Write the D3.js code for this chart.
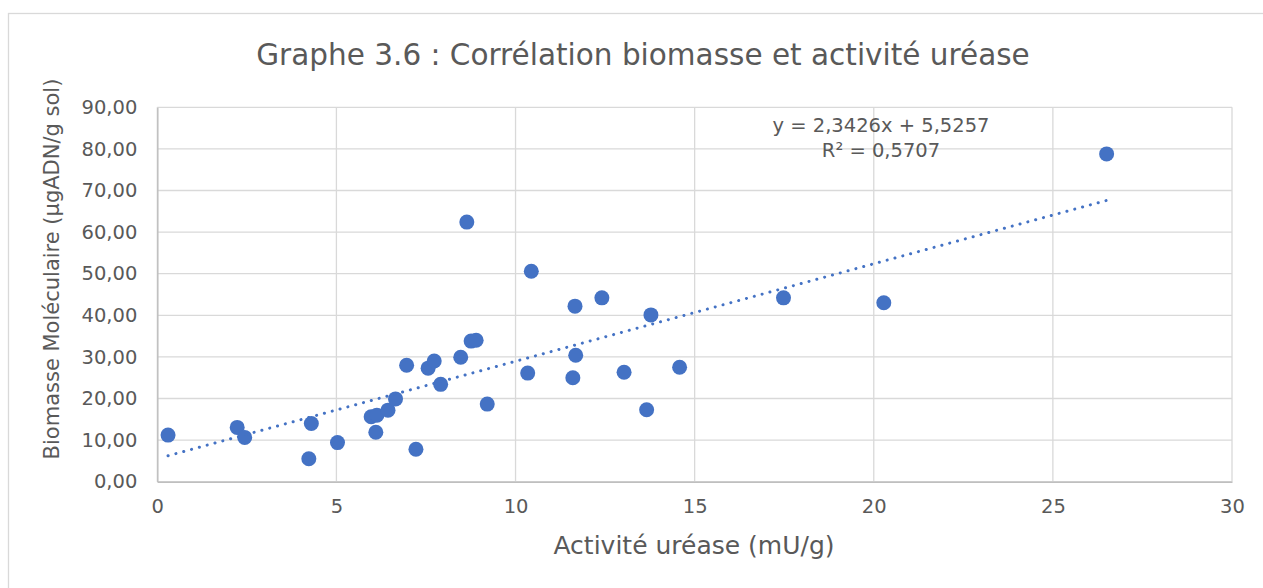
<!DOCTYPE html>
<html>
<head>
<meta charset="utf-8">
<script src="https://cdn.jsdelivr.net/npm/d3@7"></script>
<style>
  body { margin: 0; background: #fff; }
  text { font-family: "DejaVu Sans", sans-serif; fill: #595959; }
</style>
</head>
<body>
<svg id="chart" width="1263" height="588"></svg>
<script>

// activité uréase (mU/g)
var activite = [0.30, 2.23, 2.44, 4.30, 4.23, 5.03, 5.97, 6.13, 6.10, 6.44,
		6.65, 7.22, 6.96, 7.56, 7.73, 7.91, 8.47, 8.76, 8.90, 9.21, 10.34,
		8.64, 10.44, 11.66, 12.41, 13.78, 11.68, 11.60, 13.03, 13.66, 14.58,
		17.48, 20.28, 26.50];

// biomasse moléculaire (µgADN/g sol)
var biomasse = [11.2, 13.05, 10.65, 14.0, 5.5, 9.4, 15.6, 16.0, 11.9, 17.2,
		19.9, 7.8, 28.0, 27.3, 29.0, 23.4, 29.9, 33.8, 34.0, 18.65, 26.1,
		62.4, 50.6, 42.2, 44.2, 40.1, 30.4, 25.0, 26.3, 17.3, 27.5, 44.2,
		43.0, 78.8];

var xTicks = [0, 5, 10, 15, 20, 25, 30];
var yTicks = [0, 10, 20, 30, 40, 50, 60, 70, 80, 90];

// courbe de tendance linéaire
var pente = 2.3426;
var origine = 5.5257;
var r2 = 0.5707;

var titre = "Graphe 3.6 : Corrélation biomasse et activité uréase";
var titreX = "Activité uréase (mU/g)";
var titreY = "Biomasse Moléculaire (µgADN/g sol)";

var svg = d3.select("#chart");

var gauche = 157.3, droite = 1232, haut = 107.3, bas = 481.7;

var x = d3.scaleLinear().domain([0, 30]).range([gauche, droite]);
var y = d3.scaleLinear().domain([0, 90]).range([bas, haut]);

var virgule = d3.formatLocale({ decimal: ",", thousands: " ", grouping: [3], currency: ["", " €"] });

// cadre du graphique
svg.append("rect") //
.attr("x", 8.5).attr("y", 13.5) //
.attr("width", 1300).attr("height", 700) //
.attr("fill", "none") //
.attr("stroke", "#d9d9d9") //
.attr("stroke-width", 1.3);

// grilles
svg.append("g").selectAll("line").data(yTicks).enter().append("line") //
.attr("x1", gauche).attr("x2", droite) //
.attr("y1", function(d) { return y(d); }) //
.attr("y2", function(d) { return y(d); }) //
.attr("stroke", "#d9d9d9") //
.attr("stroke-width", 1.3);

svg.append("g").selectAll("line").data(xTicks).enter().append("line") //
.attr("x1", function(d) { return x(d); }) //
.attr("x2", function(d) { return x(d); }) //
.attr("y1", haut).attr("y2", bas) //
.attr("stroke", "#d9d9d9") //
.attr("stroke-width", 1.3);

// axes
var axeX = svg.append("g") //
.attr("transform", "translate(0," + bas + ")") //
.call(d3.axisBottom(x).tickValues(xTicks).tickSize(0).tickPadding(17));
axeX.select(".domain").attr("stroke", "#bfbfbf").attr("stroke-width", 1.5);

var axeY = svg.append("g") //
.attr("transform", "translate(" + gauche + ",0)") //
.call(d3.axisLeft(y).tickValues(yTicks).tickSize(0).tickPadding(20) //
.tickFormat(virgule.format(".2f")));
axeY.select(".domain").attr("stroke", "#bfbfbf").attr("stroke-width", 1.5);

svg.selectAll(".tick text") //
.style("font-family", "'DejaVu Sans', sans-serif") //
.style("font-size", "19.5px") //
.attr("fill", "#595959");

// points
var donnees = activite.map(function(d, i) {
	return { x: d, y: biomasse[i] };
});

svg.append("g").selectAll("circle").data(donnees).enter().append("circle") //
.attr("cx", function(d) { return x(d.x); }) //
.attr("cy", function(d) { return y(d.y); }) //
.attr("r", 7.5) //
.attr("fill", "#4472c4");

// tendance
var xMin = d3.min(activite), xMax = d3.max(activite);
svg.append("line") //
.attr("x1", x(xMin)).attr("y1", y(pente * xMin + origine)) //
.attr("x2", x(xMax)).attr("y2", y(pente * xMax + origine)) //
.attr("stroke", "#4472c4") //
.attr("stroke-width", 3) //
.attr("stroke-linecap", "round") //
.attr("stroke-dasharray", "0.1,8");

// equation
var fmt4 = virgule.format(".4f");
svg.append("text") //
.attr("x", 881).attr("y", 132) //
.attr("text-anchor", "middle") //
.style("font-size", "19.5px") //
.text("y = " + fmt4(pente) + "x + " + fmt4(origine));

svg.append("text") //
.attr("x", 881).attr("y", 157) //
.attr("text-anchor", "middle") //
.style("font-size", "19.5px") //
.text("R² = " + fmt4(r2));

// titres
svg.append("text") //
.attr("x", 643).attr("y", 65) //
.attr("text-anchor", "middle") //
.style("font-size", "29.5px") //
.text(titre);

svg.append("text") //
.attr("x", 694).attr("y", 554) //
.attr("text-anchor", "middle") //
.style("font-size", "25px") //
.text(titreX);

svg.append("text") //
.attr("transform", "translate(59,269) rotate(-90)") //
.attr("text-anchor", "middle") //
.style("font-size", "21px") //
.text(titreY);

</script>
</body>
</html>
